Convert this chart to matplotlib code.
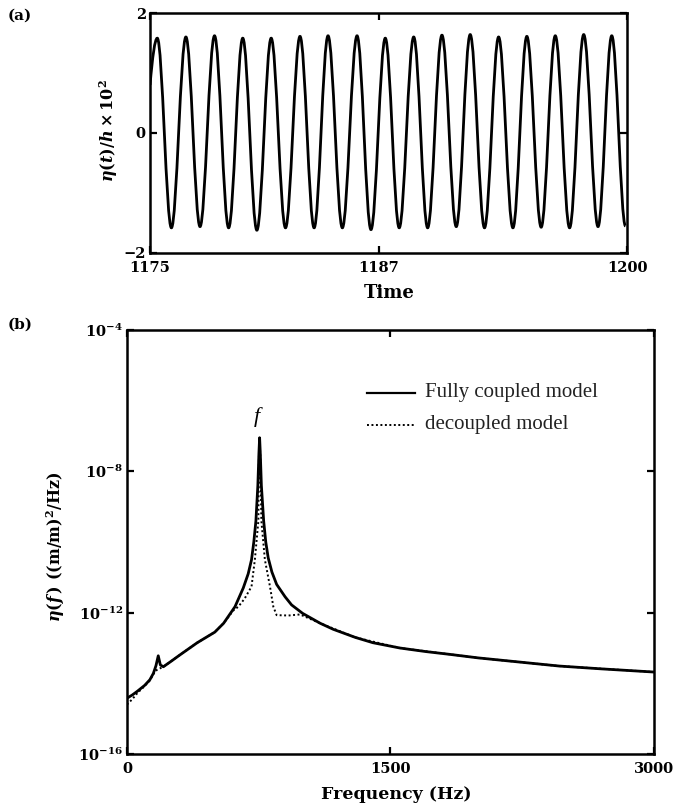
import numpy as np
import matplotlib
matplotlib.use("Agg")
import matplotlib.pyplot as plt
from matplotlib.path import Path
from matplotlib.patches import PathPatch
from matplotlib.ticker import FixedLocator, NullLocator, FuncFormatter

plt.rcParams['font.family'] = ['DejaVu Serif']
plt.rcParams['font.weight'] = 'bold'
plt.rcParams['mathtext.fontset'] = 'dejavuserif'

# (a) time series: extrema
t_start, eta_start = 1175.0, 0.80
peak_t = [1175.38, 1176.88, 1178.38, 1179.86, 1181.35, 1182.86, 1184.33, 1185.85, 1187.33,
          1188.82, 1190.30, 1191.78, 1193.27, 1194.75, 1196.24, 1197.73, 1199.20]
peak_v = [1.58, 1.60, 1.62, 1.58, 1.58, 1.61, 1.62, 1.62, 1.58,
          1.60, 1.63, 1.64, 1.60, 1.61, 1.62, 1.64, 1.62]
trough_t = [1176.12, 1177.62, 1179.12, 1180.60, 1182.10, 1183.60, 1185.08, 1186.58, 1188.06,
            1189.55, 1191.05, 1192.53, 1194.02, 1195.50, 1196.99, 1198.48, 1199.92]
trough_v = [-1.58, -1.56, -1.58, -1.62, -1.58, -1.58, -1.58, -1.61, -1.58,
            -1.58, -1.56, -1.58, -1.58, -1.57, -1.58, -1.56, -1.55]

# (b) spectra: frequency (Hz) and log10 of PSD
freq_full = [0, 30, 60, 100, 130, 150, 165, 178, 190, 207, 250, 300, 400, 500, 550, 615, 662,
             690, 709, 722, 734, 745, 751, 755, 759, 765, 778, 790, 804, 825, 852, 900, 937,
             1000, 1100, 1174, 1300, 1400, 1554, 1700, 1838, 2000, 2200, 2460, 2700, 3000]
log_full = [-14.42, -14.33, -14.22, -14.06, -13.90, -13.72, -13.50, -13.22, -13.48, -13.53,
            -13.38, -13.20, -12.85, -12.55, -12.30, -11.83, -11.30, -10.90, -10.50, -10.00,
            -9.40, -8.40, -7.50, -7.05, -7.50, -8.40, -9.40, -10.00, -10.45, -10.85, -11.20,
            -11.55, -11.78, -12.02, -12.30, -12.47, -12.70, -12.85, -13.00, -13.10, -13.18,
            -13.28, -13.38, -13.51, -13.59, -13.68]
freq_dec = [0, 30, 60, 100, 130, 150, 170, 207, 250, 300, 400, 500, 550, 605, 634, 670, 709,
            728, 748, 751, 755, 759, 765, 785, 814, 833, 852, 920, 985, 1100, 1300, 1554,
            2000, 2460, 3000]
log_dec = [-14.60, -14.45, -14.27, -14.08, -13.92, -13.74, -13.62, -13.53, -13.38, -13.20,
           -12.85, -12.55, -12.30, -11.94, -11.83, -11.60, -11.26, -10.50, -9.40, -7.60,
           -7.05, -7.60, -9.40, -10.50, -11.26, -11.83, -12.07, -12.08, -12.05, -12.30,
           -12.70, -13.00, -13.28, -13.51, -13.68]

fig = plt.figure(figsize=(6.74, 8.08), dpi=100)
ax1 = fig.add_axes([0.2226, 0.6869, 0.7077, 0.2970])
ax2 = fig.add_axes([0.1884, 0.0668, 0.7819, 0.5248])

# half-wave curves between extrema (cubic Bezier, k gives cosine-like shape)
ext_t = sorted(peak_t + trough_t)
ext_v = [dict(zip(peak_t + trough_t, peak_v + trough_v))[t] for t in ext_t]
k = 0.3634
verts = [(t_start, eta_start)]
codes = [Path.MOVETO]
dt = ext_t[0] - t_start
verts += [(t_start + dt / 3, eta_start + (ext_v[0] - eta_start) * 0.6),
          (ext_t[0] - dt / 3, ext_v[0]), (ext_t[0], ext_v[0])]
codes += [Path.CURVE4] * 3
for i in range(len(ext_t) - 1):
    t0, t1 = ext_t[i], ext_t[i + 1]
    v0, v1 = ext_v[i], ext_v[i + 1]
    d = t1 - t0
    verts += [(t0 + k * d, v0), (t1 - k * d, v1), (t1, v1)]
    codes += [Path.CURVE4] * 3
ax1.add_patch(PathPatch(Path(verts, codes), fill=False, lw=2.0, ec='black'))

ax1.set_xlim(1175, 1200)
ax1.set_ylim(-2, 2)
ax1.set_xticks([1175, 1187, 1200])
ax1.set_yticks([-2, 0, 2])
ax1.set_xlabel('Time', fontsize=13, fontweight='bold')
ax1.xaxis.set_label_coords(0.501, -0.13)
ax1.set_ylabel(r'$\eta(t)/h\times10^2$', fontsize=11.5)
ax1.yaxis.set_label_coords(-0.062, 0.51)

ax2.semilogy(freq_full, [10.0 ** v for v in log_full], color='black', lw=2.0)
ax2.semilogy(freq_dec, [10.0 ** v for v in log_dec], color='black', lw=1.4,
             linestyle=(0, (1, 1.3)))
ax2.set_xlim(0, 3000)
ax2.set_ylim(1e-16, 1e-4)
ax2.set_xticks([0, 1500, 3000])
ax2.yaxis.set_major_locator(FixedLocator([1e-16, 1e-12, 1e-8, 1e-4]))
ax2.yaxis.set_minor_locator(NullLocator())
ax2.yaxis.set_major_formatter(FuncFormatter(
    lambda v, p: r'$\mathbf{10^{%d}}$' % round(np.log10(v))))
ax2.set_xlabel('Frequency (Hz)', fontsize=12.5, fontweight='bold')
ax2.xaxis.set_label_coords(0.51, -0.075)
ax2.set_ylabel(r'$\eta(f\,)$ ((m/m)$^2$/Hz)', fontsize=11.5, fontweight='bold')
ax2.yaxis.set_label_coords(-0.113, 0.49)

ax2.text(740, 10 ** -6.45, 'f', fontsize=16, fontstyle='italic', fontweight='normal',
         family='Liberation Serif', ha='center', va='center')

# legend drawn by hand
ax2.plot([0.455, 0.547], [0.851, 0.851], color='black', lw=1.6, transform=ax2.transAxes)
ax2.plot([0.455, 0.547], [0.776, 0.776], color='black', lw=1.4,
         linestyle=(0, (1, 1.3)), transform=ax2.transAxes)
ax2.text(0.565, 0.853, 'Fully coupled model', transform=ax2.transAxes, fontsize=15,
         family='Liberation Serif', fontweight='normal', va='center', color='#222222')
ax2.text(0.565, 0.778, 'decoupled model', transform=ax2.transAxes, fontsize=15,
         family='Liberation Serif', fontweight='normal', va='center', color='#222222')

for ax in (ax1, ax2):
    for s in ax.spines.values():
        s.set_linewidth(1.8)
    ax.tick_params(direction='in', length=5, width=1.6, top=True, right=True,
                   labelsize=10.5, pad=6)
    ax.tick_params(axis='y', pad=3)
    for lab in ax.get_xticklabels() + ax.get_yticklabels():
        lab.set_fontweight('bold')

fig.text(0.012, 0.981, '(a)', fontsize=11, fontweight='bold', va='center')
fig.text(0.012, 0.598, '(b)', fontsize=11, fontweight='bold', va='center')

fig.savefig('out.png', dpi=100)
